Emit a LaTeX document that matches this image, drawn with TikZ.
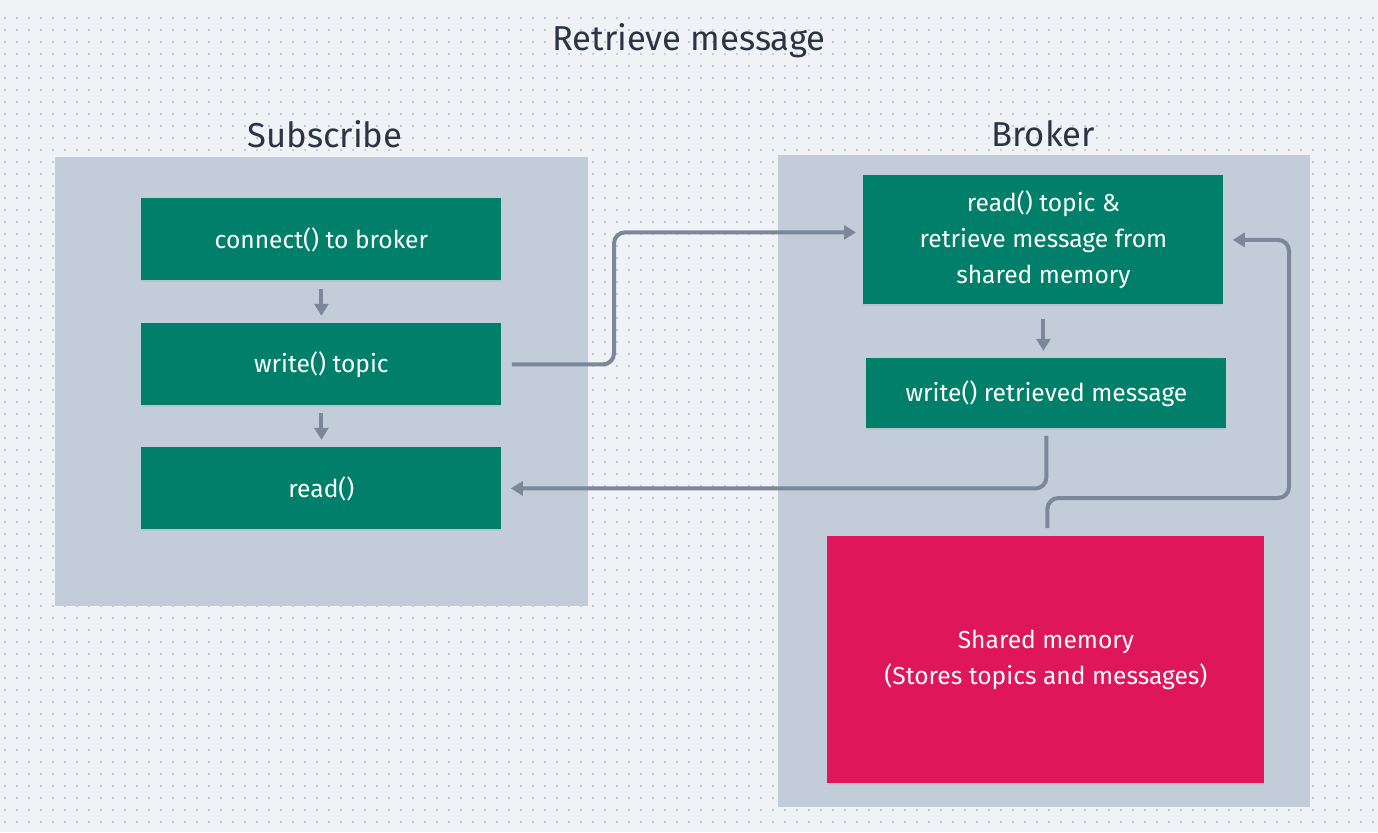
\documentclass[tikz,border=0pt]{standalone}
\usepackage{fontspec}
\setmainfont{Fira Sans}
\usetikzlibrary{arrows.meta,shadows}
\definecolor{bgcol}{HTML}{EFF3F6}
\definecolor{dotcol}{HTML}{C6CBDB}
\definecolor{panelcol}{HTML}{C2CDD9}
\definecolor{stepcol}{HTML}{00806A}
\definecolor{memcol}{HTML}{E0165A}
\definecolor{linecol}{HTML}{7A8899}
\definecolor{textcol}{HTML}{2B3445}
\tikzset{
  panel/.style={fill=panelcol, draw=none, anchor=north west, inner sep=0pt},
  stepbox/.style={fill=stepcol, text=white, anchor=north west, inner sep=0pt,
    align=center, font=\fontsize{12.3}{18}\selectfont,
    drop shadow={opacity=0.12, shadow xshift=0pt, shadow yshift=-1pt}},
  heading/.style={text=textcol, font=\fontsize{17.3}{20}\selectfont},
  flow/.style={draw=linecol, line width=2pt, rounded corners=5.5pt,
    -{Triangle[length=6pt,width=7pt]}}
}
\begin{document}
\begin{tikzpicture}[x=0.5pt, y=-0.5pt]
	\fill[bgcol] (0,0) rectangle (1378,832);
	\useasboundingbox (0,0) rectangle (1378,832);
	\foreach \r in {18,30,...,830}
		\draw[dotcol, line width=1pt, dash pattern=on 1pt off 5pt] (4,\r) -- (1378,\r);

	\node[heading] (title) at (689,41) {Retrieve message};
	\node[heading] (subtitle) at (325,134) {Subscribe};
	\node[heading] (brktitle) at (1043,134) {Broker};

	\node[panel, minimum width=266.5pt, minimum height=224.5pt] (subpanel) at (55,157) {};
	\node[panel, minimum width=266pt, minimum height=326pt] (brkpanel) at (778,155) {};

	\node[stepbox, minimum width=180pt, minimum height=41pt] (connect) at (141,198) {connect() to broker};
	\node[stepbox, minimum width=180pt, minimum height=41pt] (writetopic) at (141,323) {write() topic};
	\node[stepbox, minimum width=180pt, minimum height=41pt] (readsub) at (141,447) {read()};

	\node[stepbox, minimum width=180pt, minimum height=64.5pt] (readtopic) at (863,175) {read() topic \&\\retrieve message from\\shared memory};
	\node[stepbox, minimum width=180pt, minimum height=35pt] (writemsg) at (866,358) {write() retrieved message};
	\node[stepbox, fill=memcol, minimum width=218.5pt, minimum height=123.5pt] (shmem) at (827,536) {Shared memory\\(Stores topics and messages)};

	\draw[flow] ([yshift=-4pt]connect.south) -- ([yshift=-17.5pt]connect.south);
	\draw[flow] ([yshift=-3.5pt]writetopic.south) -- ([yshift=-17pt]writetopic.south);
	\draw[flow] ([yshift=-7pt]readtopic.south) -- ([yshift=-23pt]readtopic.south);

	\coordinate (wtout) at ([xshift=5pt]writetopic.east);
	\coordinate (rtin) at ([xshift=-3.5pt, yshift=3.75pt]readtopic.west);
	\draw[flow] (wtout) -| (614,300) |- (rtin);

	\coordinate (wmout) at ([yshift=-3.5pt]writemsg.south);
	\coordinate (rsin) at ([xshift=4.5pt]readsub.east);
	\draw[flow] (wmout) |- (rsin);

	\coordinate (smout) at ([xshift=0.75pt, yshift=4pt]shmem.north);
	\coordinate (rtback) at ([xshift=4.5pt]readtopic.east);
	\draw[flow] (smout) |- (1289,498) |- (rtback);
\end{tikzpicture}
\end{document}
